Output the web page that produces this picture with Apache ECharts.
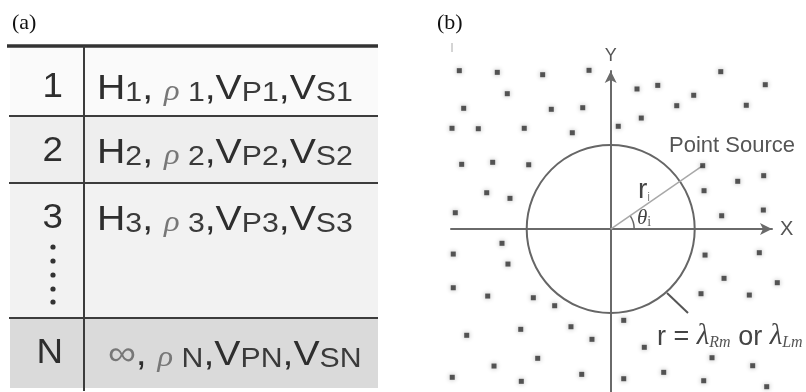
<!DOCTYPE html>
<html><head><meta charset="utf-8">
<script src="https://cdn.jsdelivr.net/npm/echarts@6/dist/echarts.min.js"></script>
<style>html,body{margin:0;padding:0;background:#fff}#c{width:806px;height:392px}</style>
</head><body><div id="c"></div>
<script>
// ---- Panel (a): layered model table ----
const layerIds = ['1', '2', '3', 'N'];
const thicknessMain = ['H', 'H', 'H', '\u221e'];
const thicknessSub = ['1', '2', '3', ''];
const densitySub = ['1', '2', '3', 'N'];
const vpSub = ['P1', 'P2', 'P3', 'PN'];
const vsSub = ['S1', 'S2', 'S3', 'SN'];

// ---- Panel (b): receivers, source, circle ----
const recvX = [-18.02,-13.5,-8.1,-2.58,13.1,18.4,3.13,5.6,9.88,-12.31,-17.5,-7.07,-3.33,7.86,16.14,3.64,-18.89,-15.76,-10.29,-4.57,0.9,-17.74,-14.05,-9.76,15.12,18.21,11.11,-14.76,-11.99,-18.5,13.21,18.17,-12.94,-18.74,-12.23,11.23,17.69,-18.74,-14.64,-9.21,-6.67,13.49,19.83,10.75,16.5,1.55,-17.14,-10.71,-4.73,-2.23,4.0,12.06,-13.89,-8.69,-18.86,-10.64,-3.45,1.55,6.31,11.07,16.9,18.57];
const recvY = [18.85,18.65,18.37,18.89,18.73,17.18,16.67,17.1,15.92,16.11,14.37,14.25,14.44,14.68,14.73,13.21,11.99,11.94,11.99,11.46,12.23,7.7,7.94,7.65,5.68,6.35,4.56,4.32,3.65,1.94,1.58,2.26,-1.7,-2.98,-4.17,-3.1,-2.82,-6.99,-7.98,-8.18,-9.13,-5.87,-6.39,-7.7,-7.86,-10.87,-12.65,-11.94,-11.63,-13.13,-14.08,-15.32,-16.31,-15.39,-17.65,-18.13,-17.3,-17.82,-17.06,-18.06,-16.27,-18.77];
const sourcePoint = [10.95, 7.54];
const circleRadius = 10;
const thetaArcRadius = 2.8;
const pointerLine = [[6.7, -7.62], [9.2, -10.0]];
const originMark = [-1.39, -1.07];

const chart = echarts.init(document.getElementById('c'));

// table layout
const tx0 = 7, tx1 = 378, txv = 84;
const rowEdges = [46, 116, 183, 318, 388];
const rowTextY = [87, 151, 218, 353];
const rowBg = ['#fafafa', '#eeeeee', '#f2f2f2', '#dadada'];
const lineCol = '#3c3c3c';

const graphics = [];
for (let i = 0; i < 4; i++) {
  graphics.push({type: 'rect', z: 1, shape: {x: tx0 + 3, y: rowEdges[i], width: tx1 - tx0 - 3, height: rowEdges[i + 1] - rowEdges[i]}, style: {fill: rowBg[i]}});
}
graphics.push({type: 'line', z: 3, shape: {x1: tx0, y1: rowEdges[0], x2: tx1, y2: rowEdges[0]}, style: {stroke: '#333', lineWidth: 3.5}});
for (let i = 1; i < 4; i++) {
  graphics.push({type: 'line', z: 3, shape: {x1: tx0 + 2, y1: rowEdges[i], x2: tx1, y2: rowEdges[i]}, style: {stroke: lineCol, lineWidth: 2}});
}
graphics.push({type: 'line', z: 3, shape: {x1: txv, y1: rowEdges[0], x2: txv, y2: 391}, style: {stroke: lineCol, lineWidth: 2}});

const big = 35, small = 27;
const sans = 'Liberation Sans, Arial, sans-serif';
const rich = {
  b: {fontSize: big, fontFamily: sans, fill: '#2e2e2e', verticalAlign: 'bottom', lineHeight: 40},
  s: {fontSize: small, fontFamily: sans, fill: '#3a3a3a', verticalAlign: 'bottom', lineHeight: 38},
  g: {fontSize: small + 2, fontFamily: 'Liberation Serif, serif', fontStyle: 'italic', fill: '#777', verticalAlign: 'bottom', lineHeight: 38},
  inf: {fontSize: big, fontFamily: sans, fill: '#777', verticalAlign: 'bottom', lineHeight: 40}
};
for (let i = 0; i < 4; i++) {
  graphics.push({type: 'text', z: 4, x: 63, y: rowTextY[i], scaleX: 1.05, style: {text: layerIds[i], x: 0, y: 0, align: 'right', verticalAlign: 'middle', fontSize: big, fontFamily: sans, fill: '#2e2e2e'}});
  const thick = thicknessSub[i] ? `{b|${thicknessMain[i]}}{s|${thicknessSub[i]}}` : `{inf| ${thicknessMain[i]}}`;
  const txt = `${thick}{b|, }{g|\u03c1}{s| ${densitySub[i]}}{b|,V}{s|${vpSub[i]}}{b|,V}{s|${vsSub[i]}}`;
  graphics.push({type: 'text', z: 4, x: 97, y: rowTextY[i], scaleX: 1.12, style: {text: txt, x: 0, y: 0, align: 'left', verticalAlign: 'middle', rich: rich}});
}
[247, 261, 275, 289, 302].forEach(function (yy) {
  graphics.push({type: 'circle', z: 4, shape: {cx: 53, cy: yy, r: 2.6}, style: {fill: '#333'}});
});
graphics.push({type: 'text', z: 4, style: {text: '(a)', x: 12, y: 23, verticalAlign: 'middle', fontSize: 22, fontFamily: 'Liberation Serif, serif', fill: '#111'}});
graphics.push({type: 'text', z: 4, style: {text: '(b)', x: 437, y: 23, verticalAlign: 'middle', fontSize: 22, fontFamily: 'Liberation Serif, serif', fill: '#111'}});
graphics.push({type: 'line', z: 4, shape: {x1: 452, y1: 43, x2: 452, y2: 52}, style: {stroke: '#aaa', lineWidth: 1}});
// annotations panel (b)
graphics.push({type: 'text', z: 6, style: {text: 'Point Source', x: 669, y: 146, verticalAlign: 'middle', fontSize: 22, fontFamily: sans, fill: '#555'}});
graphics.push({type: 'text', z: 6, style: {text: '{r|r}{i|i}', x: 638, y: 189, verticalAlign: 'middle', rich: {
  r: {fontSize: 28, fontFamily: sans, fill: '#444', verticalAlign: 'bottom', lineHeight: 30},
  i: {fontSize: 12, fontFamily: sans, fill: '#888', verticalAlign: 'bottom', lineHeight: 26}}}});
graphics.push({type: 'text', z: 6, style: {text: '{t|\u03b8}{i|i}', x: 637, y: 217, verticalAlign: 'middle', rich: {
  t: {fontSize: 21, fontFamily: 'Liberation Serif, serif', fontStyle: 'italic', fill: '#444', verticalAlign: 'bottom', lineHeight: 24},
  i: {fontSize: 14, fontFamily: 'Liberation Serif, serif', fill: '#666', verticalAlign: 'bottom', lineHeight: 22}}}});
graphics.push({type: 'text', z: 6, style: {text: '{s|r = }{l|\u03bb}{u|Rm}{s| or }{l|\u03bb}{u|Lm}', x: 657, y: 335, verticalAlign: 'middle', rich: {
  s: {fontSize: 27, fontFamily: sans, fill: '#444', verticalAlign: 'bottom', lineHeight: 32},
  l: {fontSize: 29, fontFamily: 'Liberation Serif, serif', fontStyle: 'italic', fill: '#444', verticalAlign: 'bottom', lineHeight: 32},
  u: {fontSize: 16, fontFamily: 'Liberation Serif, serif', fontStyle: 'italic', fill: '#555', verticalAlign: 'bottom', lineHeight: 27}}}});

const axisStyle = {color: '#6a6a6a', width: 2};
const receivers = recvX.map(function (x, i) { return [x, recvY[i]]; });
const markerStyle = {color: '#2f2f2f', shadowBlur: 5, shadowColor: 'rgba(0,0,0,0.4)'};

chart.setOption({
  animation: false,
  backgroundColor: '#fff',
  grid: {left: 451, top: 71, width: 321, height: 321},
  xAxis: {type: 'value', min: -19.01, max: 19.2,
    axisLine: {onZero: true, symbol: ['none', 'arrow'], symbolSize: [9, 12], lineStyle: axisStyle},
    axisTick: {show: false}, axisLabel: {show: false}, splitLine: {show: false},
    name: 'X', nameLocation: 'end', nameGap: 8, nameTextStyle: {fontSize: 20, fontFamily: sans, color: '#555', verticalAlign: 'middle'}},
  yAxis: {type: 'value', min: -19.4, max: 18.81,
    axisLine: {onZero: true, symbol: ['none', 'arrow'], symbolSize: [9, 12], lineStyle: axisStyle},
    axisTick: {show: false}, axisLabel: {show: false}, splitLine: {show: false},
    name: 'Y', nameLocation: 'end', nameGap: 6, nameTextStyle: {fontSize: 18, fontFamily: sans, color: '#555', align: 'center'}},
  graphic: graphics,
  series: [
    {type: 'scatter', name: 'receivers', data: receivers, symbol: 'rect', symbolSize: 5, itemStyle: markerStyle, clip: false, silent: true, z: 3},
    {type: 'scatter', name: 'source', data: [sourcePoint], symbol: 'rect', symbolSize: 5, itemStyle: markerStyle, clip: false, silent: true, z: 3},
    {type: 'line', name: 'ray', data: [[0, 0], sourcePoint], symbol: 'none', lineStyle: {color: '#a8a8a8', width: 1.5}, silent: true, z: 2},
    {type: 'line', name: 'pointer', data: pointerLine, symbol: 'none', lineStyle: {color: '#555', width: 2}, silent: true, z: 2},
    {type: 'custom', name: 'circle', data: [[0, 0, circleRadius]], silent: true, z: 2,
      renderItem: function (params, api) {
        const c = api.coord([api.value(0), api.value(1)]);
        const r = api.size([api.value(2), 0])[0];
        return {type: 'circle', shape: {cx: c[0], cy: c[1], r: r}, style: {fill: 'none', stroke: '#666', lineWidth: 2}};
      }},
    {type: 'custom', name: 'theta', data: [[0, 0, thetaArcRadius]], silent: true, z: 2,
      renderItem: function (params, api) {
        const c = api.coord([0, 0]);
        const r = api.size([api.value(2), 0])[0];
        const a = Math.atan2(sourcePoint[1], sourcePoint[0]);
        return {type: 'arc', shape: {cx: c[0], cy: c[1], r: r, startAngle: -a, endAngle: 0, clockwise: true}, style: {fill: 'none', stroke: '#666', lineWidth: 1.5}};
      }},
    {type: 'scatter', name: 'origin', data: [originMark], symbol: 'emptyCircle', symbolSize: 8, itemStyle: {color: '#fff', borderColor: '#666', borderWidth: 1.8}, silent: true, z: 3}
  ]
});
</script></body></html>
